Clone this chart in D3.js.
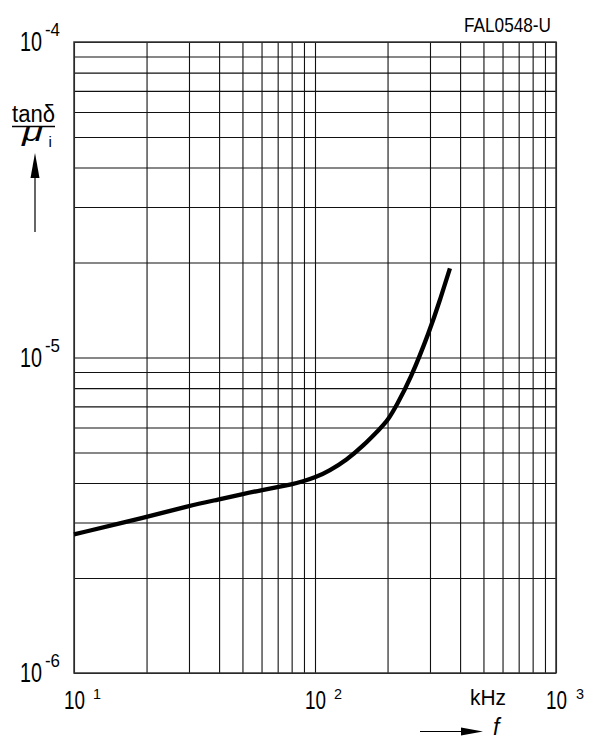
<!DOCTYPE html>
<html>
<head>
<meta charset="utf-8">
<script src="https://cdn.jsdelivr.net/npm/d3@7"></script>
<style>
  html, body { margin: 0; padding: 0; background: #fff; }
  svg { display: block; font-family: "Liberation Sans", Arial, sans-serif; }
</style>
</head>
<body>
<svg id="chart" width="591" height="739"></svg>
<script>
// ---- data ----
const freqKHz = [10, 20, 30, 40, 50, 60, 70, 80, 89, 100, 115, 135, 159, 186, 200, 218, 248, 300, 330, 363];
const tanDeltaPerMu = [2.75e-6, 3.12e-6, 3.39e-6, 3.55e-6, 3.69e-6, 3.80e-6, 3.88e-6, 3.96e-6, 4.05e-6, 4.16e-6,
                       4.38e-6, 4.73e-6, 5.26e-6, 5.95e-6, 6.30e-6, 7.05e-6, 8.48e-6, 1.222e-5, 1.521e-5, 1.917e-5];
const xTickValues = [10, 100, 1000];
const xTickExps = ["1", "2", "3"];
const yTickValues = [1e-6, 1e-5, 1e-4];
const yTickExps = ["-6", "-5", "-4"];
const chartCode = "FAL0548-U";
const xUnit = "kHz";

// ---- layout ----
const L = 74, R = 556, T = 42, B = 673;
const svg = d3.select("#chart");
const x = d3.scaleLog().domain([10, 1000]).range([L, R]);
const y = d3.scaleLog().domain([1e-6, 1e-4]).range([B, T]);

// grid via axes
const gx = svg.append("g").attr("transform", `translate(0,${B})`)
  .call(d3.axisBottom(x).tickSize(-(B - T)).tickFormat(""));
const gy = svg.append("g").attr("transform", `translate(${L},0)`)
  .call(d3.axisLeft(y).tickSize(-(R - L)).tickFormat(""));
[gx, gy].forEach(g => {
  g.select(".domain").remove();
  g.selectAll(".tick line").attr("stroke", "#111").attr("stroke-width", 1.1);
});
svg.append("rect").attr("x", L).attr("y", T).attr("width", R - L).attr("height", B - T)
  .attr("fill", "none").attr("stroke", "#333").attr("stroke-width", 1.5);

// curve
const pts = freqKHz.map((f, i) => [f, tanDeltaPerMu[i]]);
svg.append("path").datum(pts)
  .attr("fill", "none").attr("stroke", "#000").attr("stroke-width", 4.3)
  .attr("stroke-linecap", "butt")
  .attr("d", d3.line().x(d => x(d[0])).y(d => y(d[1])).curve(d3.curveBasis));

function txt(str, xx, yy, size, width, opts = {}) {
  const t = svg.append("text").attr("x", xx).attr("y", yy)
    .attr("font-size", size).attr("fill", "#000").text(str);
  if (width) t.attr("textLength", width).attr("lengthAdjust", "spacingAndGlyphs");
  if (opts.italic) t.attr("font-style", "italic");
  if (opts.anchor) t.attr("text-anchor", opts.anchor);
  return t;
}

// y tick labels
yTickValues.forEach((v, i) => {
  const py = y(v);
  txt("10", 20, py + 9, 27, 22);
  txt(yTickExps[i], 45, py - 6, 18, 15);
});
// x tick labels
xTickValues.forEach((v, i) => {
  const px = x(v);
  txt("10", px - 10, 709, 25, 21);
  txt(xTickExps[i], px + (i === 2 ? 20 : 19), 698.5, 15, 8);
});

txt(chartCode, 464, 32, 21, 87);
txt(xUnit, 470, 705, 22, 36);

// y axis title: tanδ / μ i
txt("tanδ", 12, 122, 23, 43);
svg.append("line").attr("x1", 12).attr("x2", 55).attr("y1", 126.5).attr("y2", 126.5)
  .attr("stroke", "#000").attr("stroke-width", 1.5);
txt("μ", 22, 141, 25, 21, { italic: true });
txt("i", 48.5, 146.5, 15, null);

// y arrow
svg.append("line").attr("x1", 35).attr("x2", 35).attr("y1", 175).attr("y2", 232)
  .attr("stroke", "#000").attr("stroke-width", 1.2);
svg.append("path").attr("d", "M35,153 L39.5,178 L30.5,178 Z").attr("fill", "#000");

// x arrow
svg.append("line").attr("x1", 420).attr("x2", 465).attr("y1", 731.5).attr("y2", 731.5)
  .attr("stroke", "#000").attr("stroke-width", 1.2);
svg.append("path").attr("d", "M483,731.5 L461,727.5 L461,735.5 Z").attr("fill", "#000");
txt("f", 493, 735, 23, null, { italic: true });
</script>
</body>
</html>
